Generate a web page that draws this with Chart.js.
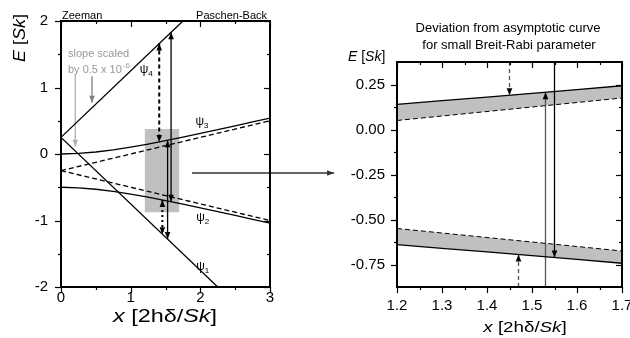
<!DOCTYPE html>
<html>
<head>
<meta charset="utf-8">
<script src="https://cdn.jsdelivr.net/npm/chart.js@4.4.1/dist/chart.umd.min.js"></script>
<style>
  html, body { margin: 0; padding: 0; background: #fff; }
  #wrap { position: relative; width: 630px; height: 338px; overflow: hidden; }
  #wrap canvas { position: absolute; left: 0; top: 0; }
</style>
</head>
<body>
<div id="wrap">
  <canvas id="overview" width="630" height="338"></canvas>
  <canvas id="zoom" width="630" height="338"></canvas>
</div>
<script>
const FONT = '"Liberation Sans", Arial, sans-serif';

// ---- left panel: Zeeman -> Paschen-Back overview ----
const overviewX = [0, 0.25, 0.5, 0.75, 1, 1.25, 1.5, 1.75, 2, 2.25, 2.5, 2.75, 3];
const psi3Overview = [0, 0.008, 0.030, 0.063, 0.104, 0.150, 0.201, 0.254, 0.309, 0.366, 0.423, 0.482, 0.541];
const psi2Overview = [-0.5, -0.508, -0.530, -0.563, -0.604, -0.650, -0.701, -0.754, -0.809, -0.866, -0.923, -0.982, -1.041];
const psi4X = [0, 1.75];
const psi4Y = [0.25, 2];
const psi1X = [0, 2.25];
const psi1Y = [0.25, -2];
const asymX = [0, 3];
const asymUpperY = [-0.25, 0.5];
const asymLowerY = [-0.25, -1.0];
const zoomBoxX = [1.2, 1.7];
const zoomBoxY = [-0.875, 0.375];
const overviewXTicks = [0, 1, 2, 3];
const overviewYTicks = [-2, -1, 0, 1, 2];

// vertical double arrows: dashed, solid, solid, dotted
const ovArrowX = [1.41, 1.58, 1.53, 1.455];
const ovArrowFrom = [1.66, 1.83, 0.207, -0.691];
const ovArrowTo = [0.182, -0.717, -1.28, -1.205];

// grey "slope scaled" pointers
const slopeArrowX = [0.205, 0.445];
const slopeArrowFrom = [1.19, 1.17];
const slopeArrowTo = [0.11, 0.77];

// arrow linking to the zoom panel
const linkX = [1.88, 3.92];
const linkY = [-0.286, -0.286];

// ---- right panel: deviation from asymptote ----
const zoomX = [1.2, 1.3, 1.4, 1.5, 1.6, 1.7];
const psi3Zoom = [0.140, 0.160, 0.180, 0.201, 0.222, 0.243];
const asymUpperZoom = [0.050, 0.075, 0.100, 0.125, 0.150, 0.175];
const psi2Zoom = [-0.640, -0.660, -0.680, -0.701, -0.722, -0.743];
const asymLowerZoom = [-0.550, -0.575, -0.600, -0.625, -0.650, -0.675];
const zoomXTicks = [1.2, 1.3, 1.4, 1.5, 1.6, 1.7];
const zoomYTicks = [-0.75, -0.5, -0.25, 0, 0.25];

const zmArrowX = [1.45, 1.53, 1.55, 1.47];
const zmArrowFrom = [0.375, -0.875, 0.375, -0.875];
const zmArrowTo = [0.190, 0.207, -0.711, -0.695];

// helpers
const pts = (xs, ys) => xs.map((x, i) => ({ x: x, y: ys[i] }));
const line = (data, extra) => Object.assign({
  data: data, showLine: true, pointRadius: 0, borderColor: '#000',
  borderWidth: 1.3, fill: false, tension: 0
}, extra || {});

function midTicks(major, lo, hi) {
  const out = [];
  const step = major[1] - major[0];
  for (let i = -1; i < major.length; i++) {
    const v = (i < 0 ? major[0] - step : major[i]) + step / 2;
    if (v > lo + 1e-9 && v < hi - 1e-9) out.push(v);
  }
  return out;
}

// mixed italic/upright text, optionally stretched horizontally (sx)
function richText(ctx, parts, x, y, size, align, sx) {
  sx = sx || 1;
  let w = 0;
  parts.forEach(p => { ctx.font = (p[1] ? 'italic ' : '') + size + 'px ' + FONT; w += ctx.measureText(p[0]).width; });
  ctx.save();
  ctx.translate(x, y);
  ctx.scale(sx, 1);
  let cx = align === 'center' ? -w / 2 : (align === 'right' ? -w : 0);
  ctx.textAlign = 'left';
  parts.forEach(p => {
    ctx.font = (p[1] ? 'italic ' : '') + size + 'px ' + FONT;
    ctx.fillText(p[0], cx, 0);
    cx += ctx.measureText(p[0]).width;
  });
  ctx.restore();
}

function drawHead(ctx, from, to) {
  const ang = Math.atan2(to.y - from.y, to.x - from.x);
  const L = 7, W = 2.8, c = Math.cos(ang), s = Math.sin(ang);
  ctx.beginPath();
  ctx.moveTo(to.x, to.y);
  ctx.lineTo(to.x - L * c + W * s, to.y - L * s - W * c);
  ctx.lineTo(to.x - L * c - W * s, to.y - L * s + W * c);
  ctx.closePath();
  ctx.fill();
}

const arrowHeads = {
  id: 'arrowHeads',
  afterDatasetsDraw(chart) {
    const ctx = chart.ctx;
    chart.data.datasets.forEach((ds, i) => {
      if (!ds.heads) return;
      const p = chart.getDatasetMeta(i).data;
      const a = p[0], b = p[p.length - 1];
      ctx.save();
      ctx.fillStyle = ds.headColor || ds.borderColor;
      if (ds.heads !== 'start') drawHead(ctx, a, b);
      if (ds.heads !== 'end') drawHead(ctx, b, a);
      ctx.restore();
    });
  }
};

const frameTicks = {
  id: 'frameTicks',
  afterDatasetsDraw(chart, args, opts) {
    const { ctx, chartArea: a } = chart;
    const x = chart.scales.x, y = chart.scales.y;
    ctx.save();
    ctx.strokeStyle = '#000';
    ctx.lineWidth = 1.2;
    const seg = (x1, y1, x2, y2) => { ctx.beginPath(); ctx.moveTo(x1, y1); ctx.lineTo(x2, y2); ctx.stroke(); };
    const xt = (v, len) => { const px = Math.round(x.getPixelForValue(v)) + 0.5; seg(px, a.bottom, px, a.bottom + len); seg(px, a.top, px, a.top + len); };
    const yt = (v, len) => { const py = Math.round(y.getPixelForValue(v)) + 0.5; seg(a.left - len, py, a.left, py); seg(a.right - len, py, a.right, py); };
    x.ticks.forEach(t => xt(t.value, 6));
    opts.xMinor.forEach(v => xt(v, 3));
    y.ticks.forEach(t => yt(t.value, 6));
    opts.yMinor.forEach(v => yt(v, 3));
    ctx.lineWidth = 2;
    ctx.strokeRect(a.left, a.top, a.right - a.left, a.bottom - a.top);
    ctx.restore();
  }
};

function axis(min, max, ticks, fmt, pad, size) {
  return {
    type: 'linear', min: min, max: max,
    grid: { display: false, drawTicks: false },
    border: { display: false },
    ticks: { padding: pad, color: '#000', font: { family: FONT, size: 15 }, callback: fmt, autoSkip: false, maxRotation: 0 },
    afterBuildTicks: s => { s.ticks = ticks.map(v => ({ value: v })); },
    afterFit: s => { size(s); s.paddingLeft = 0; s.paddingRight = 0; s.paddingTop = 0; s.paddingBottom = 0; }
  };
}

const common = {
  responsive: false, animation: false, devicePixelRatio: 1, events: []
};

// ---------- left chart ----------
const ovDs = [
  line(pts(zoomBoxX, [zoomBoxY[1], zoomBoxY[1]]), { borderWidth: 0, fill: 1, backgroundColor: '#c0c0c0' }),
  line(pts(zoomBoxX, [zoomBoxY[0], zoomBoxY[0]]), { borderWidth: 0 }),
  line(pts(overviewX, psi3Overview)),
  line(pts(overviewX, psi2Overview)),
  line(pts(psi4X, psi4Y)),
  line(pts(psi1X, psi1Y)),
  line(pts(asymX, asymUpperY), { borderDash: [5, 3] }),
  line(pts(asymX, asymLowerY), { borderDash: [5, 3] })
];
const ovStyles = [
  { borderDash: [4, 3], borderWidth: 2 },
  { borderWidth: 1.3 },
  { borderWidth: 1.3 },
  { borderDash: [2, 3], borderWidth: 2 }
];
ovArrowX.forEach((x, i) => ovDs.push(line(pts([x, x], [ovArrowFrom[i], ovArrowTo[i]]), Object.assign({ heads: 'both' }, ovStyles[i]))));
const slopeColors = ['#b0b0b0', '#808080'];
slopeArrowX.forEach((x, i) => ovDs.push(line(pts([x, x], [slopeArrowFrom[i], slopeArrowTo[i]]), { heads: 'end', borderColor: slopeColors[i], borderWidth: 1.3 })));
ovDs.push(line(pts(linkX, linkY), { heads: 'end', clip: false, borderColor: '#333', borderWidth: 1.3 }));

const ovText = {
  id: 'ovText',
  afterDraw(chart) {
    const ctx = chart.ctx, x = chart.scales.x, y = chart.scales.y;
    ctx.save();
    ctx.fillStyle = '#000';
    ctx.textBaseline = 'alphabetic';
    ctx.font = '11px ' + FONT;
    ctx.textAlign = 'left';
    ctx.fillText('Zeeman', 62, 19);
    ctx.textAlign = 'right';
    ctx.fillText('Paschen-Back', 267, 19);
    // psi labels
    const psi = (n, vx, vy) => {
      const px = x.getPixelForValue(vx), py = y.getPixelForValue(vy);
      ctx.textAlign = 'left';
      ctx.font = '12px ' + FONT;
      ctx.fillText('\u03C8', px, py);
      const w = ctx.measureText('\u03C8').width;
      ctx.font = '8px ' + FONT;
      ctx.fillText(n, px + w, py + 3);
    };
    psi('4', 1.13, 1.22);
    psi('3', 1.93, 0.43);
    psi('2', 1.94, -1.0);
    psi('1', 1.94, -1.74);
    // grey note
    ctx.fillStyle = '#999';
    ctx.font = '11px ' + FONT;
    ctx.textAlign = 'left';
    ctx.fillText('slope scaled', 68, 57);
    ctx.fillText('by 0.5 x 10', 68, 73);
    const w = ctx.measureText('by 0.5 x 10').width;
    ctx.font = '8px ' + FONT;
    ctx.fillText('-6', 68 + w + 1, 68);
    // axis titles
    ctx.fillStyle = '#000';
    ctx.textBaseline = 'middle';
    richText(ctx, [['x', true], [' [2h\u03B4/', false], ['Sk', true], [']', false]], 165, 317, 18, 'center', 1.3);
    ctx.translate(21, 38);
    ctx.rotate(-Math.PI / 2);
    richText(ctx, [['E', true], [' [', false], ['Sk', true], [']', false]], 0, 0, 16, 'center', 1.12);
    ctx.restore();
  }
};

new Chart(document.getElementById('overview'), {
  type: 'scatter',
  data: { datasets: ovDs },
  options: Object.assign({}, common, {
    layout: { padding: { left: 0, right: 360, top: 21, bottom: 0 } },
    scales: {
      x: axis(0, 3, overviewXTicks, v => String(v), 2, s => { s.height = 51; }),
      y: axis(-2, 2, overviewYTicks, v => String(v), 13, s => { s.width = 61; })
    },
    plugins: {
      legend: { display: false }, tooltip: { enabled: false },
      filler: { drawTime: 'beforeDatasetsDraw' },
      frameTicks: { xMinor: midTicks(overviewXTicks, 0, 3), yMinor: midTicks(overviewYTicks, -2, 2) }
    }
  }),
  plugins: [frameTicks, arrowHeads, ovText]
});

// ---------- right chart ----------
const zmDs = [
  line(pts(zoomX, psi3Zoom), { fill: 1, backgroundColor: '#c0c0c0' }),
  line(pts(zoomX, asymUpperZoom), { borderDash: [5, 3], borderWidth: 1 }),
  line(pts(zoomX, psi2Zoom), { fill: 3, backgroundColor: '#c0c0c0' }),
  line(pts(zoomX, asymLowerZoom), { borderDash: [5, 3], borderWidth: 1 })
];
const zmStyles = [
  { borderDash: [4, 3], borderColor: '#555', headColor: '#000' },
  { borderColor: '#555', headColor: '#000' },
  { borderColor: '#000' },
  { borderDash: [4, 3], borderColor: '#555', headColor: '#000' }
];
zmArrowX.forEach((x, i) => zmDs.push(line(pts([x, x], [zmArrowFrom[i], zmArrowTo[i]]), Object.assign({ heads: 'end', borderWidth: 1.3 }, zmStyles[i]))));

const zmText = {
  id: 'zmText',
  afterDraw(chart) {
    const ctx = chart.ctx;
    ctx.save();
    ctx.fillStyle = '#000';
    ctx.textBaseline = 'middle';
    ctx.textAlign = 'center';
    ctx.font = '13px ' + FONT;
    ctx.fillText('Deviation from asymptotic curve', 508, 28);
    ctx.fillText('for small Breit-Rabi parameter', 509, 45);
    richText(ctx, [['E', true], [' [', false], ['Sk', true], [']', false]], 348, 57, 14, 'left');
    richText(ctx, [['x', true], [' [2h\u03B4/', false], ['Sk', true], [']', false]], 525, 328, 15, 'center', 1.25);
    ctx.restore();
  }
};

new Chart(document.getElementById('zoom'), {
  type: 'scatter',
  data: { datasets: zmDs },
  options: Object.assign({}, common, {
    layout: { padding: { left: 0, right: 8, top: 62, bottom: 0 } },
    scales: {
      x: axis(1.2, 1.7, zoomXTicks, v => Number(v).toFixed(1), 10, s => { s.height = 51; }),
      y: axis(-0.875, 0.375, zoomYTicks, v => Number(v).toFixed(2), 12, s => { s.width = 397; })
    },
    plugins: {
      legend: { display: false }, tooltip: { enabled: false },
      filler: { drawTime: 'beforeDatasetsDraw' },
      frameTicks: { xMinor: midTicks(zoomXTicks, 1.2, 1.7), yMinor: midTicks(zoomYTicks, -0.875, 0.375) }
    }
  }),
  plugins: [frameTicks, arrowHeads, zmText]
});
</script>
</body>
</html>
